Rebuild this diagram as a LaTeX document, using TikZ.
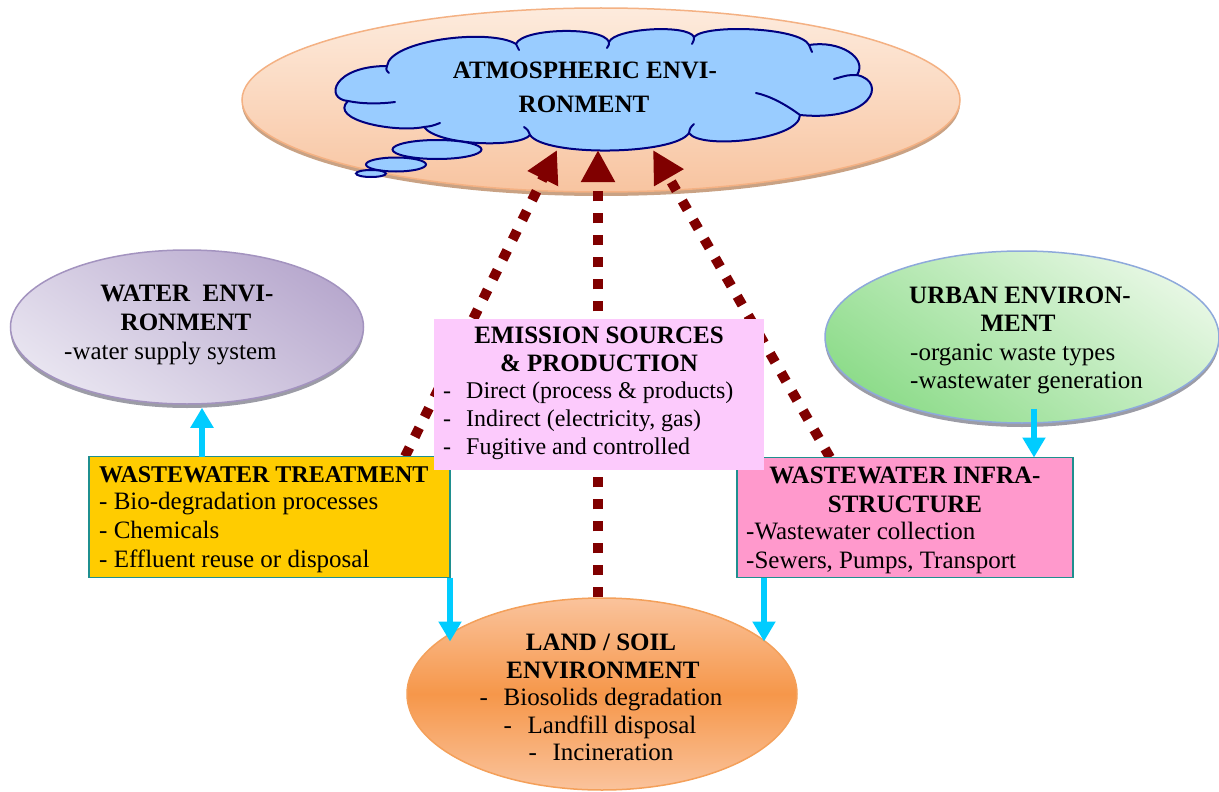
\documentclass[tikz,border=0pt]{standalone}
\usepackage{fontspec}
\setmainfont{Liberation Serif}
\usetikzlibrary{shapes.geometric,arrows.meta,calc}
\pgfdeclarelayer{paper}\pgfdeclarelayer{sky}\pgfdeclarelayer{dots}\pgfdeclarelayer{over}
\pgfsetlayers{paper,sky,dots,main,over}
\definecolor{atmtop}{HTML}{FDEBDD}
\definecolor{atmbot}{HTML}{F8C4A0}
\definecolor{atmline}{HTML}{F4B183}
\definecolor{atmrim}{HTML}{C9A284}
\definecolor{navy}{HTML}{000080}
\definecolor{cloudblue}{HTML}{99CCFF}
\definecolor{wattop}{HTML}{B8A9CE}
\definecolor{watbot}{HTML}{E8E4F0}
\definecolor{watline}{HTML}{A393BF}
\definecolor{greyrim}{HTML}{9C9CA6}
\definecolor{urbtop}{HTML}{E6F7E3}
\definecolor{urbbot}{HTML}{8EDC8B}
\definecolor{urbline}{HTML}{8EA9DB}
\definecolor{landedge}{HTML}{FAC39C}
\definecolor{landmid}{HTML}{F6974A}
\definecolor{landline}{HTML}{F4A05A}
\definecolor{emP}{HTML}{FCCAFC}
\definecolor{treatY}{HTML}{FFCC00}
\definecolor{infraP}{HTML}{FF99CC}
\definecolor{tealb}{HTML}{1F8F8F}
\definecolor{cyanA}{HTML}{00CCFF}
\definecolor{dred}{HTML}{800000}
\begin{document}
\begin{tikzpicture}[x=1pt,y=-1pt,
  lbl/.style={inner sep=0pt,font=\fontsize{25}{29}\selectfont},
  sm/.style={inner sep=0pt,font=\fontsize{24}{28}\selectfont},
  hd/.style={inner sep=0pt,font=\fontsize{25}{29}\selectfont\bfseries},
  hds/.style={inner sep=0pt,font=\fontsize{24}{28}\selectfont\bfseries},
  boxnode/.style={rectangle,draw=tealb,line width=1.5pt,inner sep=0pt,outer sep=0pt},
  ell/.style={ellipse,inner sep=0pt},
  cloudline/.style={draw=navy,line width=2pt,line cap=round},
  bubble/.style={ellipse,inner sep=0pt,draw=navy,fill=cloudblue,line width=2pt},
  cyanarrow/.style={draw=cyanA,line width=6pt,-{Triangle[width=22pt,length=20pt]}},
  dotarrow/.style={draw=dred,line width=10pt,dash pattern=on 10pt off 12pt,-{Triangle[width=32pt,length=32pt]}}]
\begin{pgfonlayer}{paper}
\fill[white] (0,0) rectangle (1219,792);
\end{pgfonlayer}
\useasboundingbox (0,0) rectangle (1219,792);

\begin{pgfonlayer}{sky}
\node[ell,fill=atmrim,minimum width=718pt,minimum height=184pt] (atmr) at (601,104) {};
\node[ell,draw=atmline,line width=1.5pt,top color=atmtop,bottom color=atmbot,minimum width=718pt,minimum height=184pt] (atm) at (601,100) {};
% cloud outline
\path[cloudline,fill=cloudblue,line join=round]
  (348,101) .. controls (324,99) and (333,66) .. (387,66)
  .. controls (390,40) and (490,28) .. (516,44)
  .. controls (522,28) and (603,26) .. (609,42)
  .. controls (615,28) and (688,24) .. (694,37)
  .. controls (705,24) and (800,27) .. (809,45)
  .. controls (840,40) and (868,58) .. (857,75)
  .. controls (888,82) and (872,122) .. (800,115)
  .. controls (800,140) and (700,150) .. (689,133)
  .. controls (675,155) and (545,157) .. (530,135)
  .. controls (520,148) and (438,146) .. (424,127)
  .. controls (395,133) and (328,120) .. cycle;
% seams of the cloud
\draw[cloudline] (348,101) .. controls (362,104) and (380,104) .. (395,102);
\draw[cloudline] (387,66) .. controls (386,70) .. (389,73);
\draw[cloudline] (424,127) .. controls (432,126) .. (440,123);
\draw[cloudline] (530,135) .. controls (528,130) .. (524,127);
\draw[cloudline] (689,133) .. controls (690,128) .. (694,124);
\draw[cloudline] (800,115) .. controls (785,104) and (770,96) .. (756,93);
\draw[cloudline] (857,75) .. controls (848,75) .. (834,79);
\draw[cloudline] (516,44) .. controls (517,47) .. (519,50);
\draw[cloudline] (609,42) .. controls (609,45) .. (607,48);
\draw[cloudline] (694,37) .. controls (694,40) .. (692,44);
\draw[cloudline] (809,45) .. controls (810,48) .. (812,52);
\node[bubble,minimum width=89pt,minimum height=19pt] (b1) at (437,149.5) {};
\node[bubble,minimum width=60pt,minimum height=14pt] (b2) at (396,164.5) {};
\node[bubble,minimum width=30pt,minimum height=7pt] (b3) at (371,173.5) {};
\end{pgfonlayer}

% boxes
\node[boxnode,fill=treatY,minimum width=361pt,minimum height=121pt] (tr) at (269.5,517) {};
\node[boxnode,fill=infraP,minimum width=336pt,minimum height=120pt] (inf) at (905,517.5) {};
\node[rectangle,inner sep=0pt,outer sep=0pt,fill=emP,minimum width=330pt,minimum height=151pt] (em) at (598.5,394.5) {};

% ellipses
\node[ell,fill=greyrim,minimum width=353pt,minimum height=154pt] (watr) at (187,331) {};
\node[ell,draw=watline,line width=1.5pt,top color=wattop,bottom color=watbot,shading angle=-35,minimum width=353pt,minimum height=154pt] (wat) at (187,327) {};
\node[ell,fill=greyrim,minimum width=394pt,minimum height=172pt] (urbr) at (1022,341) {};
\node[ell,draw=urbline,line width=1.5pt,top color=urbtop,bottom color=urbbot,shading angle=-35,minimum width=394pt,minimum height=172pt] (urb) at (1022,337) {};
\node[ell,draw=landline,line width=1.5pt,top color=landedge,bottom color=landedge,middle color=landmid,minimum width=390pt,minimum height=192pt] (land) at (602,694) {};

% dotted emission arrows
\coordinate (ta) at (557,150);
\coordinate (tb) at (598,150);
\coordinate (tc) at (653,150);
\begin{pgfonlayer}{dots}
\draw[dotarrow] ([xshift=316pt]tr.north west) -- (ta);
\draw[dotarrow] ([xshift=-4pt]land.north) -- (tb);
\draw[dotarrow] ([xshift=93pt]inf.north west) -- (tc);
\end{pgfonlayer}

% cyan arrows
\coordinate (l1) at ($(tr.south east)+(0,64)$);
\coordinate (l2) at ($([xshift=27pt]inf.south west)+(0,64)$);
\begin{pgfonlayer}{over}
\draw[cyanarrow] ([xshift=-67.5pt]tr.north) -- ([xshift=15pt,yshift=-3pt]wat.south);
\draw[cyanarrow] ([xshift=12pt,yshift=15pt]urb.south) -- ([xshift=129pt]inf.north);
\draw[cyanarrow] (tr.south east) -- (l1);
\draw[cyanarrow] ([xshift=27pt]inf.south west) -- (l2);
\end{pgfonlayer}

% texts
\node[hd,anchor=base] (tatm1) at (585,79) {ATMOSPHERIC ENVI-};
\node[hd,anchor=base] (tatm2) at (584,113) {RONMENT};

\node[hd,anchor=base] (twat1) at (187,301) {WATER\ \ ENVI-};
\node[hd,anchor=base] (twat2) at (186,330) {RONMENT};
\node[lbl,anchor=base west] (twat3) at (64,359) {-water supply system};

\node[hd,anchor=base] (turb1) at (1020,303) {URBAN ENVIRON-};
\node[hd,anchor=base] (turb2) at (1018,331) {MENT};
\node[lbl,anchor=base west] (turb3) at (910,360) {-organic waste types};
\node[lbl,anchor=base west] (turb4) at (910,388) {-wastewater generation};

\node[hd,anchor=base] (tem1) at (599,343) {EMISSION SOURCES};
\node[hd,anchor=base] (tem2) at (599,371) {\&\ PRODUCTION};
\node[sm,anchor=base west] (tem3) at (443,398) {\makebox[23pt][l]{-}Direct (process \& products)};
\node[sm,anchor=base west] (tem4) at (443,426) {\makebox[23pt][l]{-}Indirect (electricity, gas)};
\node[sm,anchor=base west] (tem5) at (443,454) {\makebox[23pt][l]{-}Fugitive and controlled};

\node[hds,anchor=base west] (ttr1) at (99,482) {WASTEWATER TREATMENT};
\node[lbl,anchor=base west] (ttr2) at (99,509) {- Bio-degradation processes};
\node[lbl,anchor=base west] (ttr3) at (99,538) {- Chemicals};
\node[lbl,anchor=base west] (ttr4) at (99,567) {- Effluent reuse or disposal};

\node[hd,anchor=base] (tinf1) at (905,483) {WASTEWATER INFRA-};
\node[hd,anchor=base] (tinf2) at (905,512) {STRUCTURE};
\node[lbl,anchor=base west] (tinf3) at (746,539) {-Wastewater collection};
\node[lbl,anchor=base west] (tinf4) at (746,568) {-Sewers, Pumps, Transport};

\node[hd,anchor=base] (tland1) at (601,650) {LAND / SOIL};
\node[hd,anchor=base] (tland2) at (603,678) {ENVIRONMENT};
\node[lbl,anchor=base] (tland3) at (601,705) {-\hspace{15.7pt}Biosolids degradation};
\node[lbl,anchor=base] (tland4) at (600,733) {-\hspace{15.7pt}Landfill disposal};
\node[lbl,anchor=base] (tland5) at (601,760) {-\hspace{15.7pt}Incineration};
\end{tikzpicture}
\end{document}
